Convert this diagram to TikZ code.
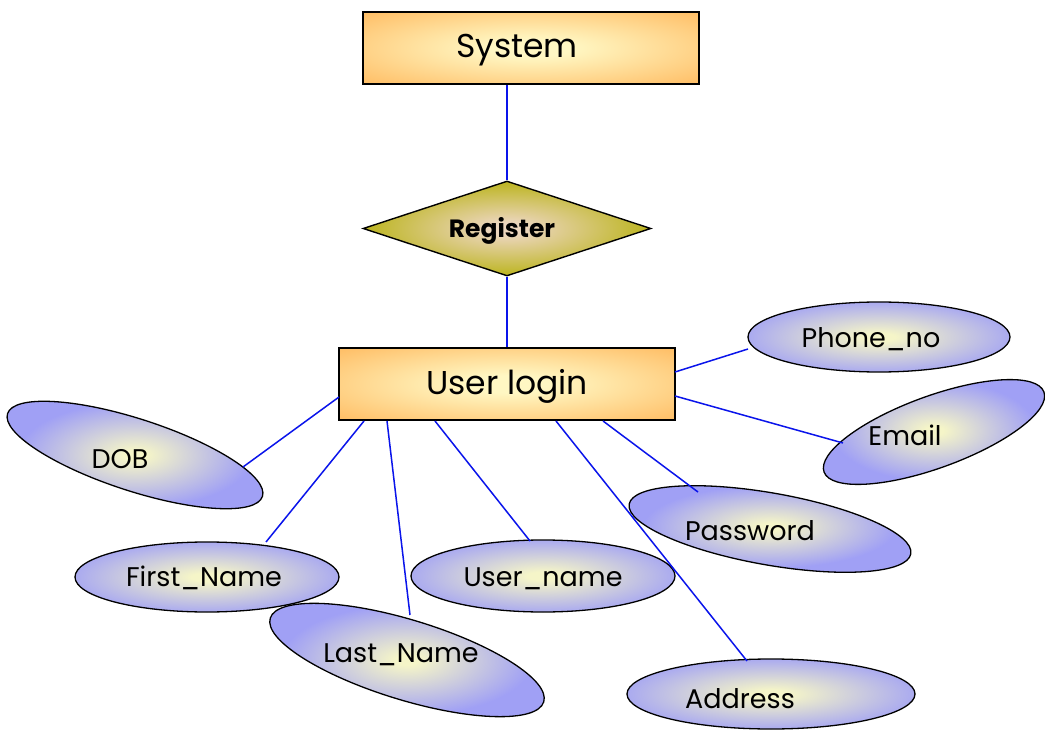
\documentclass[tikz,border=0pt]{standalone}
\usepackage{fontspec}
\setmainfont{Poppins}
\usetikzlibrary{shapes.geometric}
\definecolor{boxin}{RGB}{255,247,195}
\definecolor{boxout}{RGB}{255,192,105}
\definecolor{diain}{RGB}{236,214,190}
\definecolor{diaout}{RGB}{190,182,38}
\definecolor{ellin}{RGB}{245,245,200}
\definecolor{ellout}{RGB}{160,160,245}
\definecolor{linkblue}{RGB}{10,20,235}
\pgfdeclareradialshading{boxsh}{\pgfpoint{0bp}{0bp}}{color(0bp)=(boxin); color(6bp)=(boxin); color(34bp)=(boxout); color(50bp)=(boxout)}
\pgfdeclareradialshading{diash}{\pgfpoint{0bp}{0bp}}{color(0bp)=(diain); color(3bp)=(diain); color(24bp)=(diaout); color(50bp)=(diaout)}
\pgfdeclareradialshading{ellsh}{\pgfpoint{0bp}{0bp}}{color(0bp)=(ellin); color(3bp)=(ellin); color(28bp)=(ellout); color(50bp)=(ellout)}
\pgfdeclareradialshading{ellshr}{\pgfpoint{0bp}{0bp}}{color(0bp)=(ellin); color(2bp)=(ellin); color(22bp)=(ellout); color(50bp)=(ellout)}
\tikzset{
  entity/.style={rectangle, draw=black, line width=1.6pt, shading=boxsh, minimum width=336, minimum height=72, inner sep=0pt},
  rel/.style={diamond, draw=black, line width=1.4pt, shading=diash, minimum width=288, minimum height=95, aspect=3, inner sep=0pt},
  attr/.style={ellipse, draw=black, line width=1.3pt, shading=ellsh, inner sep=0pt},
  tilted/.style={shading=ellshr},
  lbl/.style={font=\fontsize{27}{31}\selectfont, inner sep=0pt},
  big/.style={font=\fontsize{33}{37}\selectfont, inner sep=0pt},
  conn/.style={draw=linkblue, line width=1.5pt}
}
\begin{document}
\begin{tikzpicture}[x=1pt,y=-1pt]
\useasboundingbox[fill=white] (0,0) rectangle (1045,730);
% entities and relationship
\node[entity] (sys) at (531,48) {};
\node[big] (systxt) at (517,50) {System};
\node[rel] (dia) at (507,228.5) {};
\node[lbl, font=\bfseries\fontsize{25}{29}\selectfont] (diatxt) at (502,231) {Register};
\node[entity] (ul) at (507,384) {};
\node[big] (ultxt) at (507,386) {User login};
% attributes
\node[attr, tilted, minimum width=268, minimum height=72, rotate=-18] (dob) at (135,455) {};
\node[lbl] (dobtxt) at (120,459) {DOB};
\node[attr, minimum width=264, minimum height=70] (fn) at (207,577) {};
\node[lbl] (fntxt) at (204,578) {First\_Name};
\node[attr, tilted, minimum width=286, minimum height=80, rotate=-17] (ln) at (407,660) {};
\node[lbl] (lntxt) at (401,655) {Last\_Name};
\node[attr, minimum width=264, minimum height=72] (un) at (543,576) {};
\node[lbl] (untxt) at (543,579) {User\_name};
\node[attr, minimum width=288, minimum height=70] (ad) at (771,694) {};
\node[lbl] (adtxt) at (740,699) {Address};
\node[attr, tilted, minimum width=286, minimum height=72, rotate=-10] (pw) at (770,529) {};
\node[lbl] (pwtxt) at (750,531) {Password};
\node[attr, tilted, minimum width=234, minimum height=72, rotate=20] (em) at (934,432) {};
\node[lbl] (emtxt) at (905,435) {Email};
\node[attr, minimum width=262, minimum height=70] (ph) at (879,337) {};
\node[lbl] (phtxt) at (871,339) {Phone\_no};
% connector end points
\coordinate (u1) at (339,397); \coordinate (a1) at (243,467);
\coordinate (u2) at (364,421); \coordinate (a2) at (266,542);
\coordinate (u3) at (387,421); \coordinate (a3) at (410,615);
\coordinate (u4) at (435,421); \coordinate (a4) at (530,541);
\coordinate (u5) at (556,421); \coordinate (a5) at (747,661);
\coordinate (u6) at (603,421); \coordinate (a6) at (698,492);
\coordinate (u7) at (675,396); \coordinate (a7) at (843,443);
\coordinate (u8) at (675,372); \coordinate (a8) at (748,349);
% connectors
\draw[conn] (dia.north |- sys.south) -- (dia.north);
\draw[conn] (dia.south) -- (ul.north);
\draw[conn] (u1) -- (a1);
\draw[conn] (u2) -- (a2);
\draw[conn] (u3) -- (a3);
\draw[conn] (u4) -- (a4);
\draw[conn] (u5) -- (a5);
\draw[conn] (u6) -- (a6);
\draw[conn] (u7) -- (a7);
\draw[conn] (u8) -- (a8);
\end{tikzpicture}
\end{document}
